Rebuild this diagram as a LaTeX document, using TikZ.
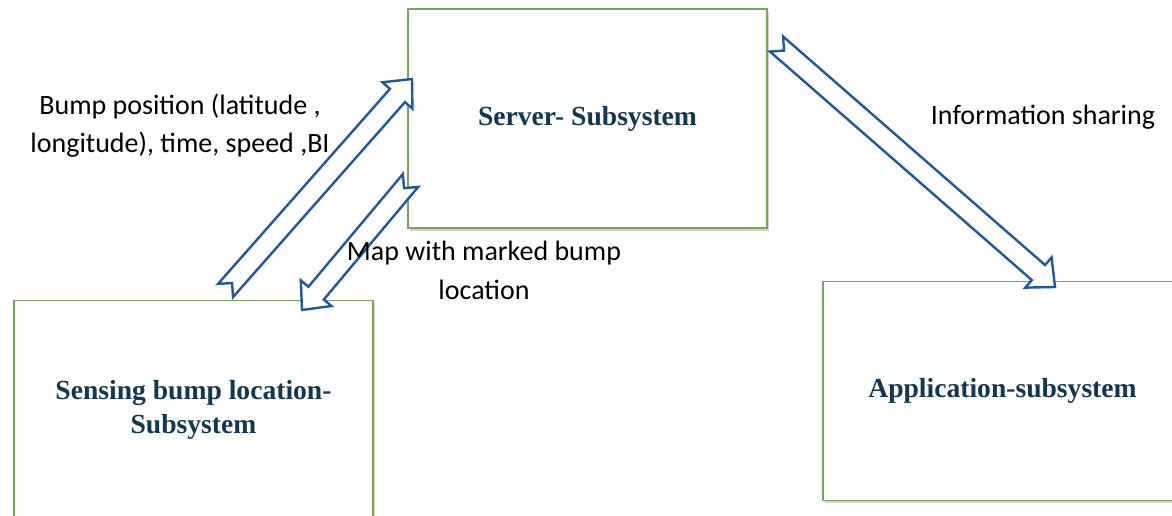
\documentclass[tikz,border=0pt]{standalone}
\usepackage{fontspec}
\setmainfont{Liberation Serif}
\newfontfamily\lblfont{Carlito}
\usetikzlibrary{calc,shadows}
\definecolor{boxgreen}{RGB}{118,166,86}
\definecolor{arrowblue}{RGB}{30,88,158}
\definecolor{titleteal}{RGB}{16,56,80}
\tikzset{
  sysbox/.style={draw=boxgreen, line width=1.3pt, fill=white,
    minimum width=359pt, minimum height=219pt, inner sep=0pt, align=center,
    font=\fontsize{27.6}{34}\selectfont\bfseries, text=titleteal,
    drop shadow={shadow xshift=2pt, shadow yshift=-2.5pt, opacity=0.3, fill=black!60}},
  blockarrow/.style={draw=arrowblue, line width=2.4pt, fill=white, line join=miter},
  lbl/.style={font=\lblfont\fontsize{28}{38.5}\selectfont, align=center, text=black, inner sep=0pt}
}
\newcommand\notcharrow[2]{%
  \path ($(#2)!22pt!(#1)$) coordinate (hb);
  \draw[blockarrow] ($(#1)!10pt!90:(#2)$) -- ($(hb)!10pt!90:(#2)$) -- ($(hb)!20pt!90:(#2)$)
    -- (#2) -- ($(hb)!20pt!-90:(#2)$) -- ($(hb)!10pt!-90:(#2)$) -- ($(#1)!10pt!-90:(#2)$)
    -- ($(#1)!10pt!(#2)$) -- cycle;}
\begin{document}
\begin{tikzpicture}[x=1pt,y=-1pt]
  \useasboundingbox (0,0) rectangle (1172,515);
  \clip (0,0) rectangle (1172,515);
  \node[sysbox] (server) at (587.5,118.5) {Server- Subsystem};
  \node[sysbox] (sense) at (193.5,410) {Sensing bump location-\\Subsystem};
  \node[sysbox] (app) at (1002.5,391) {Application-subsystem};

  \coordinate (a1t) at (225.5,290.5);
  \coordinate (a1h) at (412,79);
  \coordinate (a2t) at (410.5,180.5);
  \coordinate (a2h) at (302,310);
  \coordinate (a3t) at (776.5,44);
  \coordinate (a3h) at (1055,287);
  \notcharrow{a1t}{a1h}
  \notcharrow{a2t}{a2h}
  \notcharrow{a3t}{a3h}

  \node[lbl] (l1) at (180,125.5) {Bump position (latitude ,\\longitude), time, speed ,BI};
  \node[lbl] (l2) at (484,270.5) {Map with marked bump\\location};
  \node[lbl] (l3) at (1043,117) {Information sharing};
\end{tikzpicture}
\end{document}
